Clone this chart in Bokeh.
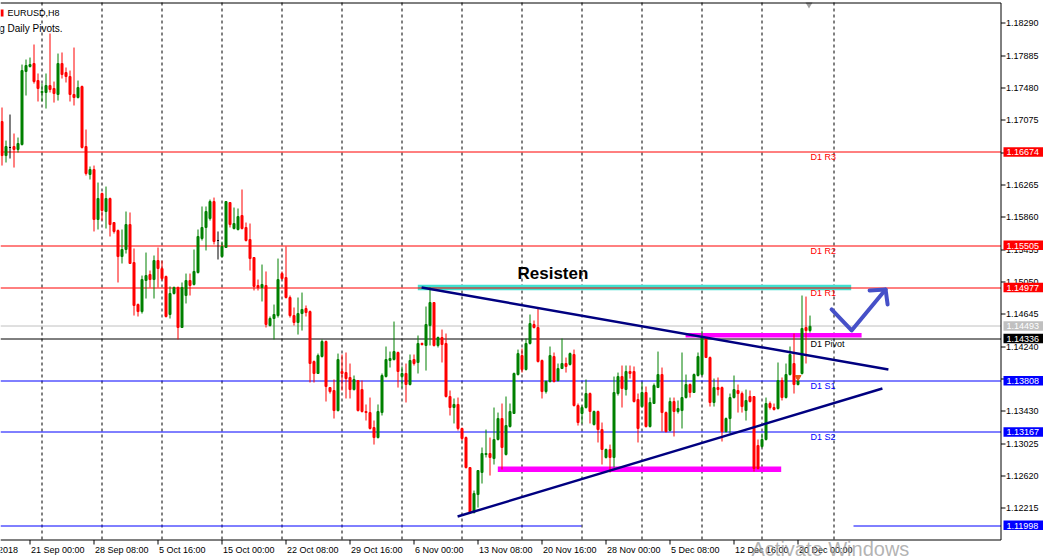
import math
from bokeh.plotting import figure
from bokeh.models import Range1d, ColumnDataSource
from bokeh.core.properties import value
from bokeh.embed import file_html
from bokeh.resources import INLINE

# ---------------- data (EURUSD H8 candles) ----------------
opens = [1.17058,1.16632,1.16733,1.16745,1.16708,1.16770,1.17685,1.17747,1.17785,1.17572,
         1.17422,1.17422,1.17509,1.17472,1.17397,1.17785,1.17672,1.17622,1.17397,1.17359,
         1.17497,1.16745,1.16395,1.16457,1.15831,1.16157,1.15931,1.16094,1.15793,1.15693,
         1.15367,1.15455,1.15768,1.15292,1.14766,1.14678,1.15067,1.15142,1.15079,1.15317,
         1.15217,1.15117,1.14641,1.14904,1.14979,1.14478,1.14879,1.15067,1.15017,1.15167,
         1.15593,1.15731,1.15843,1.16056,1.15568,1.15367,1.15480,1.16044,1.15718,1.15706,
         1.15881,1.15731,1.15580,1.15355,1.15004,1.14979,1.15004,1.14503,1.14591,1.14628,
         1.15154,1.15104,1.14854,1.14628,1.14541,1.14653,1.14716,1.14678,1.14052,1.13902,
         1.14115,1.14303,1.13726,1.13689,1.13438,1.13927,1.13914,1.13852,1.13701,1.13814,
         1.13701,1.13426,1.13413,1.13225,1.13100,1.13413,1.13864,1.14065,1.14077,1.14165,
         1.13864,1.13902,1.13764,1.14077,1.14040,1.14278,1.14253,1.14503,1.14791,1.14253,
         1.14353,1.14278,1.13614,1.13476,1.13514,1.13213,1.13100,1.12724,1.12161,1.12386,
         1.12662,1.12887,1.12900,1.12837,1.13075,1.13338,1.12887,1.13238,1.13401,1.13889,
         1.14127,1.13952,1.14278,1.14516,1.14478,1.14065,1.13676,1.13802,1.14115,1.13814,
         1.13964,1.14027,1.14015,1.14140,1.13501,1.13401,1.13476,1.13651,1.13263,1.13426,
         1.13200,1.12850,1.12950,1.12850,1.13651,1.13864,1.13701,1.13927,1.13927,1.13576,
         1.13488,1.13664,1.13238,1.13526,1.13726,1.13889,1.13413,1.13188,1.13551,1.13426,
         1.13438,1.13601,1.13764,1.13664,1.13877,1.13889,1.14353,1.14102,1.13539,1.13726,
         1.13726,1.13175,1.13338,1.13601,1.13689,1.13651,1.13438,1.13614,1.13614,1.13000,
         1.12987,1.13075,1.13526,1.13476,1.13463,1.13814,1.13601,1.13889,1.14027,1.13764,
         1.13902,1.14478,1.14440]
highs = [1.17234,1.16820,1.17146,1.16908,1.16858,1.17772,1.17835,1.17860,1.18023,1.17660,
         1.17534,1.17660,1.18161,1.17559,1.17910,1.17923,1.17735,1.17697,1.17985,1.17572,
         1.17509,1.16958,1.16495,1.16507,1.16294,1.16169,1.16244,1.16106,1.15793,1.15706,
         1.15706,1.15931,1.15919,1.15468,1.14779,1.15129,1.15417,1.15192,1.15380,1.15480,
         1.15317,1.15129,1.14992,1.14992,1.14992,1.15042,1.15154,1.15154,1.15455,1.15706,
         1.15994,1.15994,1.16081,1.16106,1.15681,1.15555,1.16056,1.16044,1.15981,1.15969,
         1.16207,1.15793,1.15781,1.15355,1.15079,1.15267,1.15180,1.14616,1.14766,1.15342,
         1.15180,1.15493,1.14879,1.14729,1.14854,1.14916,1.14754,1.14691,1.14065,1.14152,
         1.14328,1.14315,1.13726,1.13827,1.14152,1.14140,1.14165,1.14027,1.13877,1.13814,
         1.13814,1.13514,1.13601,1.13313,1.13514,1.13902,1.14240,1.14177,1.14553,1.14177,
         1.13990,1.14027,1.14140,1.14140,1.14378,1.14290,1.14741,1.14979,1.14791,1.14365,
         1.14453,1.14403,1.13689,1.13589,1.13601,1.13225,1.13113,1.12724,1.12436,1.12687,
         1.12975,1.13200,1.13100,1.13476,1.13413,1.13526,1.13614,1.13526,1.13914,1.14202,
         1.14215,1.14340,1.14641,1.14566,1.14716,1.14077,1.13814,1.14240,1.14165,1.14027,
         1.14340,1.14102,1.14165,1.14202,1.13526,1.13501,1.13827,1.13664,1.13438,1.13438,
         1.13288,1.12962,1.13012,1.13864,1.13914,1.14002,1.14002,1.14002,1.13990,1.13651,
         1.13789,1.13739,1.13601,1.13777,1.14177,1.13977,1.13426,1.13601,1.13601,1.13564,
         1.14165,1.13889,1.13777,1.13902,1.14165,1.14440,1.14353,1.14115,1.13839,1.13852,
         1.13739,1.13351,1.13651,1.13877,1.13764,1.13676,1.13701,1.13689,1.13614,1.13075,
         1.13150,1.13601,1.13551,1.13526,1.14040,1.13852,1.14027,1.14240,1.14403,1.13877,
         1.14879,1.14866,1.14628]
lows = [1.16507,1.16545,1.16595,1.16482,1.16670,1.16758,1.17384,1.17735,1.17534,1.17309,
        1.17309,1.17221,1.17422,1.17296,1.17321,1.17597,1.17547,1.17309,1.17259,1.17347,
        1.16720,1.16382,1.16332,1.15681,1.15706,1.15818,1.15718,1.15618,1.15655,1.15042,
        1.15280,1.15405,1.15280,1.14628,1.14616,1.14653,1.14841,1.14979,1.14841,1.14979,
        1.15067,1.14603,1.14591,1.14891,1.14328,1.14478,1.14779,1.14879,1.15004,1.15154,
        1.15568,1.15443,1.15818,1.15518,1.15330,1.15355,1.15480,1.15731,1.15706,1.15693,
        1.15706,1.15555,1.15192,1.14942,1.14942,1.14804,1.14478,1.14491,1.14328,1.14603,
        1.15079,1.14841,1.14603,1.14503,1.14390,1.14440,1.14616,1.13789,1.13789,1.13902,
        1.14102,1.13551,1.13651,1.13338,1.13426,1.13689,1.13589,1.13589,1.13689,1.13426,
        1.13413,1.13313,1.13200,1.13012,1.13088,1.13376,1.13852,1.13977,1.14065,1.13726,
        1.13726,1.13539,1.13752,1.14002,1.13902,1.14253,1.13939,1.14253,1.14240,1.14228,
        1.14040,1.13601,1.13376,1.13276,1.13188,1.13063,1.12712,1.12148,1.12148,1.12223,
        1.12524,1.12850,1.12624,1.12762,1.13063,1.12699,1.12875,1.13225,1.13401,1.13877,
        1.13914,1.13939,1.14265,1.14466,1.14040,1.13589,1.13651,1.13789,1.13789,1.13802,
        1.13964,1.13914,1.14002,1.13488,1.13250,1.13276,1.13463,1.13276,1.13250,1.13038,
        1.12762,1.12837,1.12662,1.12724,1.13626,1.13476,1.13626,1.13839,1.13539,1.13038,
        1.13476,1.13225,1.13225,1.13526,1.13726,1.13175,1.13163,1.13175,1.13113,1.13401,
        1.13213,1.13589,1.13601,1.13664,1.13864,1.13877,1.14102,1.13488,1.13488,1.13626,
        1.13050,1.13163,1.13150,1.13589,1.13413,1.13413,1.13313,1.13539,1.12674,1.12699,
        1.12975,1.13063,1.13451,1.13438,1.13451,1.13564,1.13589,1.13877,1.13651,1.13752,
        1.13889,1.14027,1.14415]
closes = [1.16632,1.16745,1.16733,1.16708,1.16783,1.17697,1.17760,1.17772,1.17559,1.17472,
          1.17434,1.17509,1.17459,1.17409,1.17785,1.17647,1.17622,1.17397,1.17359,1.17484,
          1.16733,1.16407,1.16457,1.15831,1.16094,1.15944,1.16094,1.15768,1.15681,1.15367,
          1.15455,1.15768,1.15280,1.14754,1.14678,1.15079,1.15129,1.15079,1.15317,1.15217,
          1.15092,1.14616,1.14904,1.14979,1.14478,1.14979,1.15067,1.15004,1.15180,1.15618,
          1.15731,1.15931,1.16056,1.15555,1.15568,1.15493,1.16056,1.15768,1.15781,1.15868,
          1.15718,1.15568,1.15342,1.14992,1.14979,1.15017,1.14516,1.14591,1.14641,1.15079,
          1.15092,1.14854,1.14628,1.14541,1.14653,1.14704,1.14666,1.14027,1.13902,1.14127,
          1.14303,1.13739,1.13676,1.13438,1.14077,1.13902,1.13839,1.13701,1.13827,1.13438,
          1.13426,1.13413,1.13213,1.13100,1.13426,1.13877,1.14077,1.14090,1.14177,1.13927,
          1.13902,1.13764,1.14065,1.14027,1.14278,1.14265,1.14516,1.14791,1.14253,1.14353,
          1.14265,1.13614,1.13476,1.13514,1.13213,1.13088,1.12724,1.12161,1.12399,1.12687,
          1.12900,1.12900,1.12850,1.13075,1.13338,1.12975,1.13250,1.13426,1.13902,1.14152,
          1.13952,1.14278,1.14528,1.14478,1.14052,1.13676,1.13802,1.14127,1.13802,1.13964,
          1.14027,1.13990,1.14152,1.13501,1.13288,1.13476,1.13651,1.13426,1.13426,1.13200,
          1.12950,1.12950,1.12850,1.13664,1.13864,1.13714,1.13927,1.13902,1.13551,1.13213,
          1.13664,1.13238,1.13539,1.13752,1.13889,1.13413,1.13175,1.13551,1.13426,1.13463,
          1.13601,1.13764,1.13664,1.13889,1.14115,1.14353,1.14102,1.13539,1.13726,1.13701,
          1.13175,1.13338,1.13601,1.13701,1.13651,1.13488,1.13564,1.13551,1.12712,1.12712,
          1.13075,1.13526,1.13476,1.13451,1.13814,1.13601,1.13889,1.14140,1.13764,1.13814,
          1.14466,1.14440,1.14493]
bars = list(range(len(opens)))

tick_bars = [-9, 7, 23, 39, 55, 71, 87, 103, 119, 135, 151, 167, 183, 199]
tick_labels = ["14 Sep 2018", "21 Sep 00:00", "28 Sep 08:00", "5 Oct 16:00", "15 Oct 00:00",
               "22 Oct 08:00", "29 Oct 16:00", "6 Nov 00:00", "13 Nov 08:00", "20 Nov 16:00",
               "28 Nov 00:00", "5 Dec 08:00", "12 Dec 16:00", "20 Dec 00:00"]
price_ticks = [1.18290, 1.17885, 1.17480, 1.17075, 1.16670, 1.16265, 1.15860, 1.15455,
               1.15050, 1.14645, 1.14240, 1.13835, 1.13430, 1.13025, 1.12620, 1.12215]
week_separators = [10, 25, 40, 55, 70, 85, 100, 115, 130, 145, 160, 175, 190, 208]

pivot_names = ["D1 R3", "D1 R2", "D1 R1", "D1 Pivot", "D1 S1", "D1 S2"]
pivot_levels = [1.16674, 1.15505, 1.14977, 1.14336, 1.13808, 1.13167]
pivot_colors = ["#ff0000", "#ff0000", "#ff0000", "#000000", "#0000ff", "#0000ff"]
s3_level = 1.11998
bid_price = 1.14493

box_levels = [1.16674, 1.15505, 1.14977, 1.14493, 1.14336, 1.13808, 1.13167, 1.11998]
box_colors = ["#ff0000", "#ff0000", "#ff0000", "#c0c0c0", "#000000", "#0000ff", "#0000ff", "#0000ff"]

# user drawings (bar index, price)
trend_down = ([104.9, 221.6], [1.14979, 1.13952])
trend_up = ([113.9, 220.1], [1.12111, 1.13714])
resist_rect = (103.95, 212.3, 1.15013, 1.14946)
magenta_rects = [(123.95, 194.8, 1.12737, 1.12668), (170.9, 214.9, 1.14409, 1.14353)]
check_path = ([207.4, 212.4, 220.9], [1.14704, 1.14441, 1.14954])
check_head = ([216.9, 220.9, 221.4], [1.14942, 1.14954, 1.14766])
trade_bar = [199]
trade_price = [1.13855]

# ---------------- layout helpers (screen pixel <-> data) ----------------
W, H = 1051, 559
P_TOP = 1.185743      # price at pixel row 0
DP = 0.00012526       # price per pixel
def py(y):
    return P_TOP - DP * y
def kx(x):
    return (x - 1.5) / 4.0
def snap(price):
    # draw a 1px horizontal line centred on a whole pixel row (crisp, like MT4)
    return py(math.floor((P_TOP - price) / DP) + 0.5)

FONT = value("Liberation Sans")
AXIS_X = 1000.5       # right price axis line
AXIS_Y = 539.5        # bottom time axis line

p = figure(width=W, height=H, x_range=Range1d(kx(0), kx(W)), y_range=Range1d(py(H), py(0)),
           output_backend="svg", toolbar_location=None,
           x_axis_location=None, y_axis_location=None,
           min_border_left=0, min_border_top=0, min_border_right=0, min_border_bottom=0,
           background_fill_color="white", border_fill_color="white")
p.outline_line_color = None
p.xgrid.visible = False
p.ygrid.visible = False

# weekly separators (dotted grid)
nsep = len(week_separators)
p.segment(x0=week_separators, x1=week_separators, y0=[py(2)] * nsep, y1=[py(539)] * nsep,
          line_color="black", line_dash="3 3", line_width=1)

# rectangles (background objects)
p.quad(left=[resist_rect[0]], right=[resist_rect[1]], top=[resist_rect[2]], bottom=[resist_rect[3]],
       fill_color="#40e0d0", line_color=None)
p.quad(left=[r[0] for r in magenta_rects], right=[r[1] for r in magenta_rects],
       top=[r[2] for r in magenta_rects], bottom=[r[3] for r in magenta_rects],
       fill_color="#ff00ff", line_color=None)

# horizontal levels
npv = len(pivot_levels)
lv = [snap(l) for l in pivot_levels]
p.segment(x0=[kx(0)] * npv, x1=[kx(AXIS_X)] * npv, y0=lv, y1=lv,
          line_color=pivot_colors, line_width=1)
p.segment(x0=[kx(0)], x1=[kx(AXIS_X)], y0=[snap(bid_price)], y1=[snap(bid_price)],
          line_color="#c0c0c0", line_width=1)
s3 = snap(s3_level)
p.segment(x0=[kx(0), kx(853)], x1=[kx(581), kx(AXIS_X)], y0=[s3, s3], y1=[s3, s3],
          line_color="#0000ff", line_width=1)

# candles
colors = ["#008000" if c > o else ("#ff0000" if c < o else "#000000") for o, c in zip(opens, closes)]
src = ColumnDataSource(dict(x=bars, o=opens, h=highs, l=lows, c=closes,
                            top=[max(o, c) for o, c in zip(opens, closes)],
                            bottom=[min(o, c) for o, c in zip(opens, closes)],
                            color=colors))
p.segment(x0="x", y0="l", x1="x", y1="h", line_color="color", line_width=1, source=src)
p.vbar(x="x", width=0.5, top="top", bottom="bottom", fill_color="color",
       line_color="color", line_width=1, source=src)

# trade marker
p.scatter(x=trade_bar, y=trade_price, marker="inverted_triangle", size=6,
          fill_color="#e8561c", line_color="#e8561c")

# trend lines
p.line(x=trend_down[0], y=trend_down[1], line_color="#000080", line_width=2.4)
p.line(x=trend_up[0], y=trend_up[1], line_color="#000080", line_width=2.4)

# blue check arrow
p.line(x=check_path[0], y=check_path[1], line_color="#4650c8", line_width=4,
       line_cap="round", line_join="round")
p.line(x=check_head[0], y=check_head[1], line_color="#4650c8", line_width=4,
       line_cap="round", line_join="round")

# pivot labels
p.text(x=[kx(810)] * npv, y=pivot_levels, text=pivot_names, text_color=pivot_colors,
       text_font=FONT, text_font_size="9px", text_baseline="top", text_align="left")

# Resisten
p.text(x=[kx(517)], y=[py(263)], text=["Resisten"], text_color="black", text_font=FONT,
       text_font_size="17px", text_font_style="bold", text_baseline="top", text_align="left")

# top-left texts
p.quad(left=[kx(0)], right=[kx(3)], top=[py(9)], bottom=[py(16)], fill_color="#ff0000", line_color=None)
p.text(x=[kx(7)], y=[py(7)], text=["EURUSD,H8"], text_color="black", text_font=FONT,
       text_font_size="9px", text_baseline="top", text_align="left")
p.text(x=[kx(62)], y=[py(22)], text=["Loading Daily Pivots."], text_color="black", text_font=FONT,
       text_font_size="10px", text_baseline="top", text_align="right")

# chart shift marker
p.scatter(x=[kx(808.5)], y=[py(4)], marker="inverted_triangle", size=7,
          fill_color="#a0a0a0", line_color=None)

# ---- frame and axes ----
p.segment(x0=[kx(0), kx(AXIS_X), kx(0)], x1=[kx(AXIS_X), kx(AXIS_X), kx(AXIS_X)],
          y0=[py(2.5), py(2.5), py(AXIS_Y)], y1=[py(2.5), py(AXIS_Y), py(AXIS_Y)],
          line_color="black", line_width=1)
# price axis ticks + labels
npt = len(price_ticks)
pt = [snap(t) for t in price_ticks]
p.segment(x0=[kx(AXIS_X)] * npt, x1=[kx(1005)] * npt, y0=pt, y1=pt,
          line_color="black", line_width=1)
p.text(x=[kx(1005.5)] * npt, y=price_ticks, text=[f"{t:.5f}" for t in price_ticks],
       text_color="black", text_font=FONT, text_font_size="9px",
       text_baseline="middle", text_align="left")
# time axis ticks + labels
ntb = len(tick_bars)
p.segment(x0=tick_bars, x1=tick_bars, y0=[py(AXIS_Y)] * ntb, y1=[py(544)] * ntb,
          line_color="black", line_width=1)
p.text(x=tick_bars, y=[py(544)] * ntb, text=tick_labels, x_offset=1,
       text_color="black", text_font=FONT, text_font_size="9px",
       text_baseline="top", text_align="left")

# price boxes on the right axis
nb = len(box_levels)
p.quad(left=[kx(1003)] * nb, right=[kx(1042.5)] * nb,
       top=[l + 5 * DP for l in box_levels], bottom=[l - 4.5 * DP for l in box_levels],
       fill_color=box_colors, line_color=None)
p.text(x=[kx(1006)] * nb, y=box_levels, text=[f"{l:.5f}" for l in box_levels],
       text_color="white", text_font=FONT, text_font_size="9px",
       text_baseline="middle", text_align="left")

# watermark
p.text(x=[kx(751)], y=[py(537.5)], text=["Activate Windows"], text_color="#a0a0a0", text_alpha=0.8,
       text_font=FONT, text_font_size="20px", text_baseline="top", text_align="left")

open("out.html", "w").write(file_html(p, INLINE))
